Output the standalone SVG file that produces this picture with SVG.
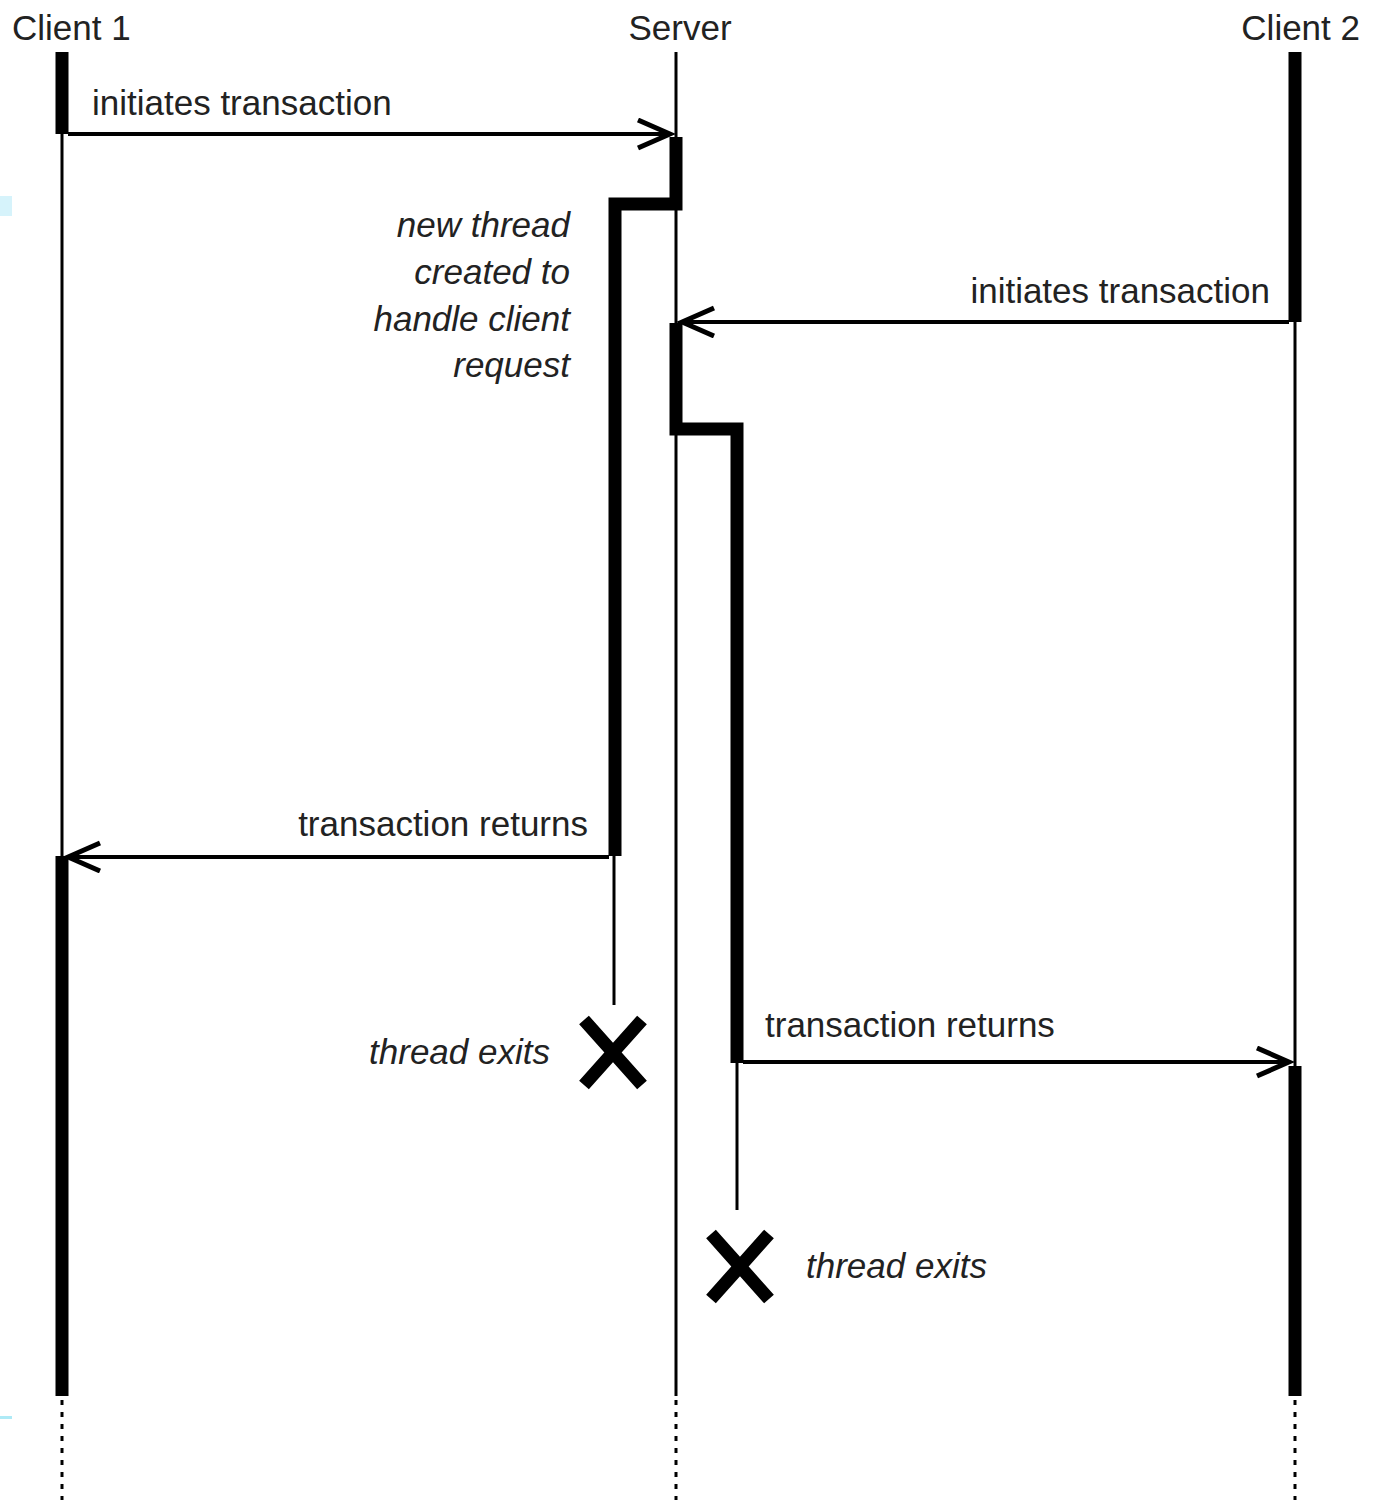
<svg xmlns="http://www.w3.org/2000/svg" width="1377" height="1500" viewBox="0 0 1377 1500">
<style>
.lbl{font-family:"Liberation Sans",Arial,sans-serif;font-size:35px;fill:#222}
.it{font-family:"Liberation Sans",Arial,sans-serif;font-size:35px;font-style:italic;fill:#222}
.thin{stroke:#000;stroke-width:3;fill:none}
.thick{stroke:#000;stroke-width:13;fill:none}
.dot{stroke:#000;stroke-width:3;stroke-dasharray:5 7;fill:none}
.msg{stroke:#000;stroke-width:4;fill:none;marker-end:url(#ah)}
.x{stroke:#000;stroke-width:13;stroke-linecap:butt;fill:none}
</style>
<defs>
<marker id="ah" markerUnits="userSpaceOnUse" markerWidth="40" markerHeight="40" refX="34" refY="16" orient="auto">
<path d="M2,2 L34,16 L2,30" fill="none" stroke="#000" stroke-width="5"/>
</marker>
</defs>
<rect width="1377" height="1500" fill="#fff"/>
<rect x="0" y="196" width="12" height="20" fill="#d6f3fb"/>
<rect x="0" y="1416" width="12" height="3" fill="#aeeaf6"/>
<g id="client1">
<text class="lbl" x="12" y="40">Client 1</text>
<line class="thick" x1="62" y1="52" x2="62" y2="134"/>
<line class="thin" x1="62" y1="134" x2="62" y2="856"/>
<line class="thick" x1="62" y1="856" x2="62" y2="1396"/>
<line class="dot" x1="62" y1="1400" x2="62" y2="1500"/>
</g>
<g id="server">
<text class="lbl" x="680" y="40" text-anchor="middle">Server</text>
<line class="thin" x1="676" y1="52" x2="676" y2="1396"/>
<line class="dot" x1="676" y1="1400" x2="676" y2="1500"/>
</g>
<g id="client2">
<text class="lbl" x="1360" y="40" text-anchor="end">Client 2</text>
<line class="thick" x1="1295" y1="52" x2="1295" y2="322"/>
<line class="thin" x1="1295" y1="322" x2="1295" y2="1066"/>
<line class="thick" x1="1295" y1="1066" x2="1295" y2="1396"/>
<line class="dot" x1="1295" y1="1400" x2="1295" y2="1500"/>
</g>
<g id="thread1">
<path class="thick" d="M676,137 V204 H615 V856"/>
<line class="thin" x1="614" y1="856" x2="614" y2="1005"/>
<text class="it" text-anchor="end"><tspan x="570" y="237">new thread</tspan><tspan x="570" y="284">created to</tspan><tspan x="570" y="331">handle client</tspan><tspan x="570" y="377">request</tspan></text>
</g>
<g id="thread1-exit">
<path class="x" d="M584,1020 L642,1085 M642,1020 L584,1085"/>
<text class="it" x="550" y="1064" text-anchor="end">thread exits</text>
</g>
<g id="thread2">
<path class="thick" d="M676,323 V429 H737 V1063"/>
<line class="thin" x1="737" y1="1063" x2="737" y2="1210"/>
</g>
<g id="thread2-exit">
<path class="x" d="M711,1234 L769,1299 M769,1234 L711,1299"/>
<text class="it" x="806" y="1278">thread exits</text>
</g>
<g id="connectors">
<line class="msg" x1="68" y1="134" x2="670" y2="134"/>
<text class="lbl" x="92" y="115">initiates transaction</text>
<line class="msg" x1="1289" y1="322" x2="682" y2="322"/>
<text class="lbl" x="1270" y="303" text-anchor="end">initiates transaction</text>
<line class="msg" x1="609" y1="857" x2="68" y2="857"/>
<text class="lbl" x="588" y="836" text-anchor="end">transaction returns</text>
<line class="msg" x1="743" y1="1062" x2="1289" y2="1062"/>
<text class="lbl" x="765" y="1037">transaction returns</text>
</g>
</svg>
